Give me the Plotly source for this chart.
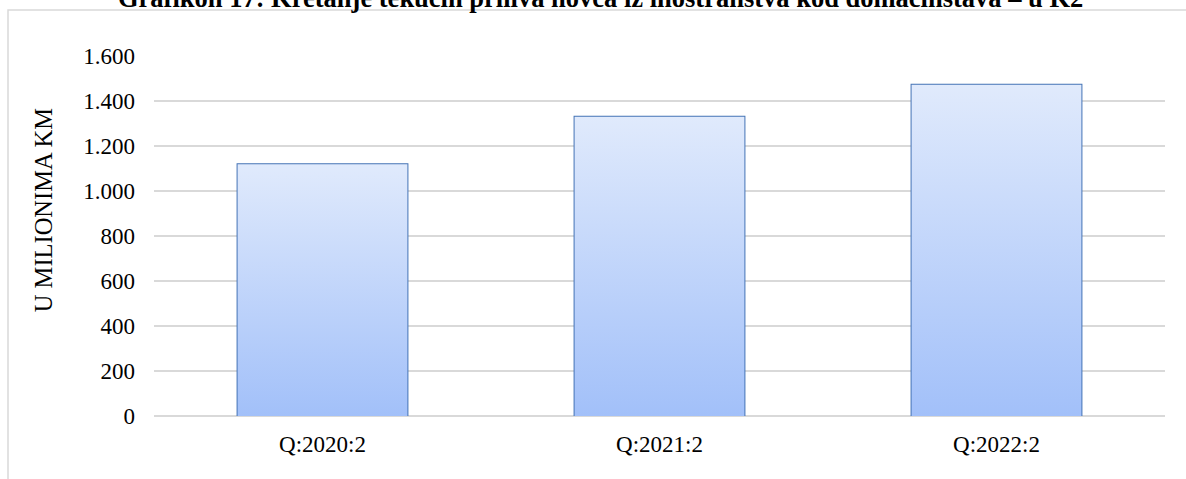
import plotly.graph_objects as go

categories = ["Q:2020:2", "Q:2021:2", "Q:2022:2"]
values = [1119, 1330, 1472]
y_ticks = [0, 200, 400, 600, 800, 1000, 1200, 1400, 1600]

title_text = "Grafikon 17: Kretanje tekućih priliva novca iz inostranstva kod domaćinstava – u K2"
y_title = "U MILIONIMA KM"

FONT = "Liberation Serif, Times New Roman, serif"
BAR_W = 0.504
xs = list(range(len(categories)))

fig = go.Figure()

# gradient fills (one per bar so that each bar gets its own gradient)
for i, v in zip(xs, values):
    fig.add_trace(go.Scatter(
        x=[i - BAR_W / 2, i - BAR_W / 2, i + BAR_W / 2, i + BAR_W / 2, i - BAR_W / 2],
        y=[0, v, v, 0, 0],
        mode="lines",
        fill="toself",
        line=dict(width=0, color="rgba(0,0,0,0)"),
        fillgradient=dict(type="vertical",
                          colorscale=[[0, "#a2c0f9"], [1, "#e0eafc"]]),
        hoverinfo="skip",
        showlegend=False,
    ))

# bar outlines
fig.add_trace(go.Bar(
    x=xs,
    y=values,
    width=BAR_W,
    marker=dict(color="rgba(0,0,0,0)", line=dict(color="#4473b5", width=2)),
    showlegend=False,
))

fig.update_layout(
    width=1186,
    height=479,
    margin=dict(l=154, r=21, t=56, b=63),
    paper_bgcolor="white",
    plot_bgcolor="white",
    separators=",.",
    font=dict(family=FONT, size=23, color="#000000"),
    xaxis=dict(
        range=[-0.5, 2.5],
        tickmode="array",
        tickvals=xs,
        ticktext=categories,
        showgrid=False,
        zeroline=False,
        showline=False,
        ticks="",
        ticklabelstandoff=12,
        tickfont=dict(family=FONT, size=23, color="#000000"),
    ),
    yaxis=dict(
        range=[0, 1600],
        tickmode="array",
        tickvals=y_ticks,
        tickformat=",",
        showgrid=True,
        gridcolor="#d9d9d9",
        gridwidth=1.5,
        zeroline=True,
        zerolinecolor="#d9d9d9",
        zerolinewidth=1.5,
        showline=False,
        ticks="",
        ticklabelstandoff=18,
        tickfont=dict(family=FONT, size=23, color="#000000"),
    ),
    shapes=[
        dict(type="rect", xref="paper", yref="paper",
             x0=-0.1444, x1=1.05, y0=-0.4, y1=1.128,
             line=dict(color="#d9d9d9", width=1.5), fillcolor="rgba(0,0,0,0)",
             layer="below"),
    ],
    annotations=[
        dict(text="<b>" + title_text + "</b>", xref="paper", yref="paper",
             x=0.4421, y=1.161, xanchor="center", yanchor="middle",
             showarrow=False, font=dict(family=FONT, size=26.5, color="#000000")),
        dict(text=y_title, textangle=-90, xref="paper", yref="paper",
             x=-0.1098, y=0.5716, xanchor="center", yanchor="middle",
             showarrow=False, font=dict(family=FONT, size=24.5, color="#000000")),
    ],
)

fig.write_html("out.html",
               config={"displayModeBar": False},
               post_script="document.body.style.margin='0';document.body.style.overflow='hidden';")
